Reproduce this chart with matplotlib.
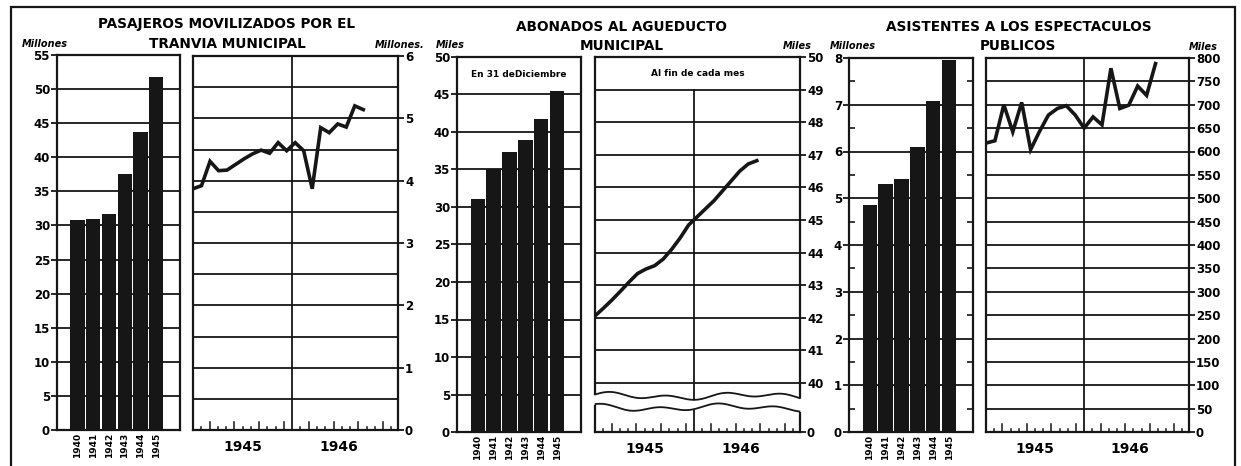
import numpy as np
import matplotlib.pyplot as plt
from matplotlib.patches import Rectangle

W, H = 1241, 466
INK = '#161616'

# datos anuales (barras)
anios = ['1940', '1941', '1942', '1943', '1944', '1945']
tranvia_anual = [30.8, 30.9, 31.7, 37.6, 43.7, 51.8]
acueducto_anual = [31.1, 35.0, 37.4, 38.9, 41.8, 45.4]
espectaculos_anual = [4.86, 5.30, 5.42, 6.09, 7.08, 7.95]

# datos mensuales 1945-1946 (lineas)
tranvia_mensual = [3.87, 3.92, 4.31, 4.16, 4.17, 4.26, 4.35, 4.43, 4.49, 4.44, 4.61,
                   4.48, 4.61, 4.48, 3.87, 4.85, 4.77, 4.91, 4.86, 5.20, 5.14]
acueducto_mensual = [42.06, 42.30, 42.55, 42.82, 43.10, 43.36, 43.50, 43.60, 43.80, 44.10,
                     44.45, 44.85, 45.10, 45.35, 45.60, 45.90, 46.20, 46.50, 46.72, 46.82]
espectaculos_mensual = [618, 623, 700, 642, 705, 604, 643, 678, 692, 698,
                        678, 650, 674, 657, 778, 692, 699, 740, 720, 788]

plt.rcParams['font.family'] = ['DejaVu Sans']
fig = plt.figure(figsize=(W / 100, H / 100), dpi=100)
fig.patch.set_facecolor('white')


def caja(x0, y0, x1, y1):
    return fig.add_axes([x0 / W, 1 - y1 / H, (x1 - x0) / W, (y1 - y0) / H])


def marco(ax):
    for s in ax.spines.values():
        s.set_linewidth(1.6)
        s.set_color(INK)


def panel_barras(rect, valores, tope, grid, ticks, minor=None):
    ax = caja(*rect)
    x = np.arange(len(valores))
    ax.bar(x, valores, width=0.9, color=INK, zorder=3)
    ax.set_xlim(-1.3, 6.5)
    ax.set_ylim(0, tope)
    for v in grid:
        ax.axhline(v, color=INK, lw=1.3, zorder=1)
    ax.set_yticks(ticks)
    ax.set_yticklabels([str(t) for t in ticks])
    if minor is not None:
        ax.set_yticks(minor, minor=True)
        ax.tick_params(axis='y', which='minor', direction='in', left=True, right=True,
                       length=4, width=1.2, color=INK)
    ax.set_xticks(x)
    ax.set_xticklabels(anios, rotation=90, fontsize=6.5, fontweight='bold')
    ax.tick_params(axis='x', length=0, pad=2)
    ax.tick_params(axis='y', which='major', direction='out', length=4, width=1.3,
                   labelsize=8.5, pad=1, color=INK)
    for t in ax.get_yticklabels():
        t.set_fontweight('bold')
    marco(ax)
    return ax


def panel_lineas(rect, valores, paso, ylim, grid, tick_pos, tick_lab, div_top=None):
    ax = caja(*rect)
    ax.set_xlim(0, 24.8)
    ax.set_ylim(*ylim)
    for v in grid:
        ax.axhline(v, color=INK, lw=1.3, zorder=1)
    ax.plot([12, 12], [ylim[0], div_top if div_top else ylim[1]], color=INK, lw=1.3, zorder=1)
    x = np.arange(len(valores)) * paso
    ax.plot(x, valores, color=INK, lw=2.6, zorder=4, solid_joinstyle='miter')
    ax.yaxis.tick_right()
    ax.set_yticks(tick_pos)
    ax.set_yticklabels(tick_lab, fontweight='bold')
    ax.tick_params(axis='y', direction='out', length=4, width=1.3, labelsize=8.5, pad=1, color=INK)
    ax.set_xticks([])
    tr = ax.get_xaxis_transform()
    for m in range(1, 25):
        if m == 12:
            continue
        h = 0.021 if m % 3 == 2 else 0.009
        ax.plot([m, m], [0, h], color=INK, lw=1.1, transform=tr)
    ax.text(6, -0.045, '1945', transform=tr, ha='center', va='center',
            fontsize=10, fontweight='bold')
    ax.text(17.6, -0.045, '1946', transform=tr, ha='center', va='center',
            fontsize=10, fontweight='bold')
    marco(ax)
    return ax


# --- tranvia
panel_barras((57, 55, 180, 430), tranvia_anual, 55, range(5, 55, 5), list(range(0, 60, 5)))
panel_lineas((193, 56, 398, 430), tranvia_mensual, 1.03, (0, 6),
             np.arange(0.5, 6, 0.5), list(range(0, 7)), [str(i) for i in range(0, 7)])

# --- acueducto
ax_b2 = panel_barras((457, 57, 581, 432), acueducto_anual, 50, range(5, 50, 5),
                     list(range(0, 55, 5)))
ax_b2.text(0.5, 47.6, 'En 31 deDiciembre', transform=ax_b2.get_yaxis_transform(),
           ha='center', va='center', fontsize=6.5, fontweight='bold')
ax_l2 = panel_lineas((595, 57, 800, 432), acueducto_mensual, 1.03, (38.5, 50),
                     range(40, 50), [38.5] + list(range(40, 51)),
                     ['0'] + [str(i) for i in range(40, 51)], div_top=49)
ax_l2.text(12.4, 49.5, 'Al fin de cada mes', ha='center', va='center',
           fontsize=6.5, fontweight='bold')
# corte del eje (ondas)
xx = np.linspace(-0.35, 25.15, 300)
arriba = 39.6 + 0.07 * np.sin(xx * 0.9) + 0.06 * np.sin(xx * 0.37 + 1)
abajo = 39.25 + 0.07 * np.sin(xx * 0.9 + 0.8) + 0.06 * np.sin(xx * 0.37 + 2)
ax_l2.fill_between(xx, abajo, arriba, color='white', zorder=6, clip_on=False, lw=0)
sel = (xx >= 0) & (xx <= 24.8)
ax_l2.plot(xx[sel], arriba[sel], color=INK, lw=1.3, zorder=7, clip_on=False)
ax_l2.plot(xx[sel], abajo[sel], color=INK, lw=1.3, zorder=7, clip_on=False)

# --- espectaculos
panel_barras((849, 58, 973, 432), espectaculos_anual, 8, range(1, 8), list(range(0, 9)),
             minor=np.arange(0.5, 8, 1.0))
panel_lineas((986, 58, 1189, 432), espectaculos_mensual, 1.09, (0, 800),
             range(50, 800, 50), list(range(0, 850, 50)), [str(i) for i in range(0, 850, 50)])

# titulos
titulos = [
    ('PASAJEROS MOVILIZADOS POR EL', 227, 24), ('TRANVIA MUNICIPAL', 227, 44),
    ('ABONADOS AL AGUEDUCTO', 621, 27), ('MUNICIPAL', 622, 46),
    ('ASISTENTES A LOS ESPECTACULOS', 1019, 27), ('PUBLICOS', 1018, 46),
]
for txt, x, y in titulos:
    fig.text(x / W, 1 - y / H, txt, ha='center', va='center', fontsize=9.8, fontweight='bold')

unidades = [('Millones', 45, 44), ('Millones.', 400, 45), ('Miles', 450, 45),
            ('Miles', 797, 46), ('Millones', 853, 46), ('Miles', 1203, 47)]
for txt, x, y in unidades:
    fig.text(x / W, 1 - y / H, txt, ha='center', va='center', fontsize=7,
             fontweight='bold', fontstyle='italic')

fig.add_artist(Rectangle((11 / W, -0.1), (1235 - 11) / W, 1.1 - 7 / H, fill=False,
                         lw=1.6, edgecolor=INK, transform=fig.transFigure))

fig.savefig('out.png', dpi=100, facecolor='white')
